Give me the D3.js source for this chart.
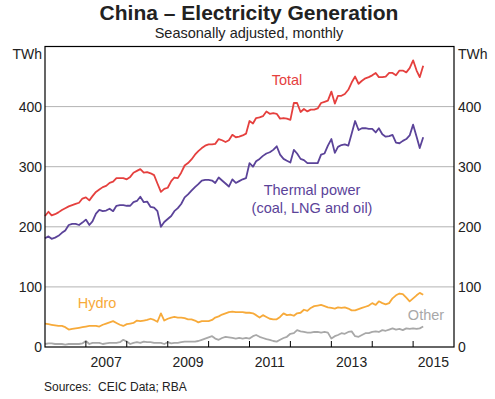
<!DOCTYPE html>
<html>
<head>
<meta charset="utf-8">
<script src="https://cdn.jsdelivr.net/npm/d3@7"></script>
<style>
  html, body { margin: 0; padding: 0; background: #fff; }
  svg { display: block; font-family: "Liberation Sans", Arial, sans-serif; }
</style>
</head>
<body>
<svg id="chart" width="495" height="399"></svg>
<script>
// ---- Data (TWh, seasonally adjusted, monthly from Jan 2006 to Apr 2015) ----
const startMonth = "2006-01";
const total = [218,225,219,221,224,228,231,234,236,238,240,247,
  249,244,251,258,262,266,268,273,275,281,281,281,
  279,283,290,293,296,290,291,289,286,272,258,263,
  265,276,282,281,290,302,306,312,320,326,331,335,
  337,337,338,346,344,341,344,353,349,350,352,355,
  376,372,381,382,384,392,388,389,388,380,381,380,
  378,406,406,391,396,392,395,395,397,406,408,410,
  425,405,418,418,421,428,440,450,438,443,447,449,
  452,456,449,449,450,456,456,452,460,460,457,464,
  477,460,449,468];
const thermal = [181,184,180,182,185,190,194,203,205,205,203,207,
  212,203,209,222,228,226,227,230,226,235,236,236,
  235,235,241,243,250,241,242,233,232,226,200,208,
  213,218,226,231,238,249,254,260,266,271,277,278,
  278,277,273,282,277,272,267,279,273,276,279,281,
  306,300,309,313,318,322,324,328,334,320,313,310,
  307,328,322,313,311,306,306,306,306,320,322,335,
  346,323,333,336,337,335,355,376,361,364,364,363,
  363,357,364,354,350,351,353,340,339,343,346,352,
  370,350,331,349];
const hydro = [39,38,37,36,35,35,33,29,30,31,32,33,
  34,35,35,35,34,37,39,41,43,40,37,35,
  38,39,40,44,43,44,45,47,45,42,56,44,
  47,49,50,49,49,48,46,46,44,41,43,43,
  43,45,49,51,54,56,58,59,58,58,58,57,
  57,56,53,49,53,50,47,46,46,50,56,53,
  54,52,56,57,62,60,65,68,69,70,68,66,
  65,64,66,65,66,64,61,61,63,65,67,69,
  73,70,76,73,71,73,81,86,89,88,82,76,
  81,86,90,87];
const other = [5,6,6,5,5,5,4,5,5,5,5,6,
  10,5,7,7,7,5,6,7,7,7,8,12,
  9,5,7,8,7,9,8,8,7,7,7,5,
  8,6,7,7,8,9,9,9,9,10,12,14,
  16,18,14,12,15,17,16,15,14,15,14,15,
  14,18,20,17,15,13,12,10,9,12,15,17,
  22,23,28,26,25,24,24,25,25,24,25,24,
  14,18,20,23,22,25,26,18,17,20,23,23,
  25,26,25,28,27,29,31,29,30,28,31,30,
  31,30,31,34];
const seriesNames = ["Total", "Thermal power", "Hydro", "Other"];
const yTicks = [0, 100, 200, 300, 400, 500];
const yTickLabels = ["0", "100", "200", "300", "400"];
const xTickYears = [2007, 2008, 2009, 2010, 2011, 2012, 2013, 2014, 2015];
const xLabelYears = ["2007", "2009", "2011", "2013", "2015"];

// ---- Layout ----
const W = 495, H = 399;
const M = { left: 45, right: 454, top: 46.5, bottom: 347 };
const colors = { total: "#e5403e", thermal: "#5b4399", hydro: "#f7aa3a", other: "#a8a8a8" };

const svg = d3.select("#chart");
const parse = d3.timeParse("%Y-%m");
const start = parse(startMonth);
const months = total.map((_, i) => d3.timeMonth.offset(start, i));

const x = d3.scaleTime()
  .domain([new Date(2006, 0, 1), new Date(2016, 0, 1)])
  .range([M.left, M.right]);
const y = d3.scaleLinear().domain([0, 500]).range([M.bottom, M.top]);

// gridlines
svg.append("g").selectAll("line")
  .data(yTicks.filter(v => v > 0 && v < 500))
  .join("line")
  .attr("x1", M.left).attr("x2", M.right)
  .attr("y1", d => y(d)).attr("y2", d => y(d))
  .attr("stroke", "#b3b3b3").attr("stroke-width", 1);

// lines
const line = d3.line().x((d, i) => x(months[i])).y(d => y(d));
const seriesList = [
  { data: other, color: colors.other },
  { data: hydro, color: colors.hydro },
  { data: thermal, color: colors.thermal },
  { data: total, color: colors.total }
];
svg.append("g").selectAll("path")
  .data(seriesList)
  .join("path")
  .attr("d", d => line(d.data))
  .attr("fill", "none")
  .attr("stroke", d => d.color)
  .attr("stroke-width", 1.8)
  .attr("stroke-linejoin", "round");

// x ticks (inward)
svg.append("g").selectAll("line")
  .data(xTickYears)
  .join("line")
  .attr("x1", d => x(new Date(d, 0, 1))).attr("x2", d => x(new Date(d, 0, 1)))
  .attr("y1", M.bottom).attr("y2", M.bottom - 6)
  .attr("stroke", "#000").attr("stroke-width", 1);

// frame
svg.append("rect")
  .attr("x", M.left).attr("y", M.top)
  .attr("width", M.right - M.left).attr("height", M.bottom - M.top)
  .attr("fill", "none").attr("stroke", "#000").attr("stroke-width", 1.2);

// y labels left & right
const yl = yTicks.filter(v => v <= 400);
svg.append("g").selectAll("text")
  .data(yl).join("text")
  .attr("x", M.left - 3).attr("y", d => y(d))
  .attr("dy", "0.36em").attr("text-anchor", "end")
  .attr("font-size", 14).attr("fill", "#222")
  .text((d, i) => yTickLabels[i]);
svg.append("g").selectAll("text")
  .data(yl).join("text")
  .attr("x", M.right + 4).attr("y", d => y(d))
  .attr("dy", "0.36em").attr("text-anchor", "start")
  .attr("font-size", 14).attr("fill", "#222")
  .text((d, i) => yTickLabels[i]);

// units
svg.append("text").attr("x", M.left - 3).attr("y", 59)
  .attr("text-anchor", "end").attr("font-size", 14).attr("fill", "#222").text("TWh");
svg.append("text").attr("x", M.right + 4).attr("y", 59)
  .attr("text-anchor", "start").attr("font-size", 14).attr("fill", "#222").text("TWh");

// x labels (centred mid-year)
svg.append("g").selectAll("text")
  .data(xLabelYears).join("text")
  .attr("x", d => x(new Date(+d, 6, 1)))
  .attr("y", 367)
  .attr("text-anchor", "middle")
  .attr("font-size", 14).attr("fill", "#222")
  .text(d => d);

// title
svg.append("text").attr("x", 249).attr("y", 20)
  .attr("text-anchor", "middle").attr("font-size", 21).attr("font-weight", "bold")
  .attr("fill", "#222").text("China – Electricity Generation");
svg.append("text").attr("x", 249).attr("y", 37.5)
  .attr("text-anchor", "middle").attr("font-size", 14.5)
  .attr("fill", "#222").text("Seasonally adjusted, monthly");

// series labels
svg.append("text").attr("x", 287).attr("y", 85).attr("text-anchor", "middle")
  .attr("font-size", 14.5).attr("fill", colors.total).text(seriesNames[0]);
svg.append("text").attr("x", 312).attr("y", 195).attr("text-anchor", "middle")
  .attr("font-size", 14.5).attr("fill", colors.thermal).text(seriesNames[1]);
svg.append("text").attr("x", 312).attr("y", 213).attr("text-anchor", "middle")
  .attr("font-size", 14.5).attr("fill", colors.thermal).text("(coal, LNG and oil)");
svg.append("text").attr("x", 97).attr("y", 308).attr("text-anchor", "middle")
  .attr("font-size", 14.5).attr("fill", colors.hydro).text(seriesNames[2]);
svg.append("text").attr("x", 426).attr("y", 320).attr("text-anchor", "middle")
  .attr("font-size", 14.5).attr("fill", colors.other).text(seriesNames[3]);

// source
svg.append("text").attr("x", 44).attr("y", 391)
  .attr("font-size", 12).attr("fill", "#222")
  .attr("xml:space", "preserve")
  .text("Sources:  CEIC Data; RBA");
</script>
</body>
</html>
